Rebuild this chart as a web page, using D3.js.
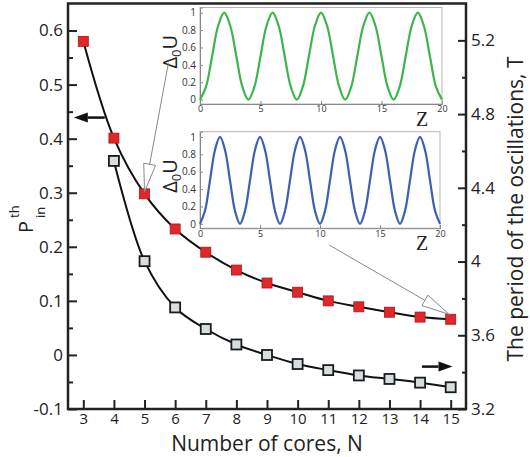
<!DOCTYPE html>
<html>
<head>
<meta charset="utf-8">
<script src="https://cdn.jsdelivr.net/npm/d3@7"></script>
<style>
  html, body { margin: 0; padding: 0; background: #fff; }
  svg { display: block; }
</style>
</head>
<body>
<div id="chart"></div>
<script>
// number of cores
const cores = [3, 4, 5, 6, 7, 8, 9, 10, 11, 12, 13, 14, 15];
// threshold power P_in^th (left axis), red squares
const pTh = [0.580, 0.401, 0.298, 0.233, 0.190, 0.157, 0.133, 0.116, 0.100, 0.089, 0.079, 0.070, 0.066];
// period of oscillations T (right axis), grey squares, from N = 4
const coresT = [4, 5, 6, 7, 8, 9, 10, 11, 12, 13, 14, 15];
const periodT = [4.546, 4.002, 3.751, 3.634, 3.550, 3.493, 3.444, 3.411, 3.382, 3.363, 3.343, 3.318];

const xTicks = [3, 4, 5, 6, 7, 8, 9, 10, 11, 12, 13, 14, 15];
const leftTicks = [-0.1, 0, 0.1, 0.2, 0.3, 0.4, 0.5, 0.6];
const leftMinor = [-0.05, 0.05, 0.15, 0.25, 0.35, 0.45, 0.55];
const rightTicks = [3.2, 3.6, 4, 4.4, 4.8, 5.2];
const rightMinor = [3.4, 3.8, 4.2, 4.6, 5.0];

// inset profiles Δ0U(Z)
const greenU = [0, 0.15, 0.5, 0.85, 1, 0.85, 0.5, 0.15,
                0, 0.15, 0.5, 0.85, 1, 0.85, 0.5, 0.15,
                0, 0.15, 0.5, 0.85, 1, 0.85, 0.5, 0.15,
                0, 0.15, 0.5, 0.85, 1, 0.85, 0.5, 0.15,
                0, 0.15, 0.5, 0.85, 1, 0.85, 0.5, 0.15, 0];
const blueU = [0, 0.15, 0.5, 0.85, 1, 0.85, 0.5, 0.15,
               0, 0.15, 0.5, 0.85, 1, 0.85, 0.5, 0.15,
               0, 0.15, 0.5, 0.85, 1, 0.85, 0.5, 0.15,
               0, 0.15, 0.5, 0.85, 1, 0.85, 0.5, 0.15,
               0, 0.15, 0.5, 0.85, 1, 0.85, 0.5, 0.15,
               0, 0.15, 0.5, 0.85, 1, 0.85, 0.5, 0.15, 0];
const insetXTicks = [0, 5, 10, 15, 20];
const insetYTicks = [0, 0.2, 0.4, 0.6, 0.8, 1];

const width = 530;
const height = 457;
const font = '"Open Sans", "Noto Sans", sans-serif';

const margin = { top: 3.5, right: 64, bottom: 48, left: 68 };
const usable = {
  top: margin.top,
  right: width - margin.right,
  bottom: height - margin.bottom,
  left: margin.left,
};

const svg = d3.select('#chart')
  .append('svg')
  .attr('width', width)
  .attr('height', height);

svg.append('rect').attr('width', width).attr('height', height).attr('fill', '#fff');

const x = d3.scaleLinear().domain([2.5, 15.5]).range([usable.left, usable.right]);
const yLeft = d3.scaleLinear().domain([-0.1, 0.65]).range([usable.bottom, usable.top]);
const yRight = d3.scaleLinear().domain([3.2, 5.4]).range([usable.bottom, usable.top]);

function styleAxis(g, size) {
  g.select('.domain').remove();
  g.attr('font-family', font).attr('font-size', size).attr('color', '#222');
  g.selectAll('line').attr('stroke-width', 2);
}

// minor ticks
svg.append('g')
  .attr('transform', `translate(${usable.left},0)`)
  .call(d3.axisLeft(yLeft).tickValues(leftMinor).tickSize(-5).tickFormat(''))
  .call(g => styleAxis(g, 16));
svg.append('g')
  .attr('transform', `translate(${usable.right},0)`)
  .call(d3.axisRight(yRight).tickValues(rightMinor).tickSize(-4).tickFormat(''))
  .call(g => styleAxis(g, 16));

// major axes
svg.append('g')
  .attr('transform', `translate(${usable.left},0)`)
  .call(d3.axisLeft(yLeft).tickValues(leftTicks).tickSize(-9).tickPadding(5).tickFormat(d => String(d)))
  .call(g => styleAxis(g, 17));
svg.append('g')
  .attr('transform', `translate(${usable.right},0)`)
  .call(d3.axisRight(yRight).tickValues(rightTicks).tickSize(-8).tickPadding(5).tickFormat(d => String(d)))
  .call(g => styleAxis(g, 17));
svg.append('g')
  .attr('transform', `translate(0,${usable.bottom})`)
  .call(d3.axisBottom(x).tickValues(xTicks).tickSize(-9).tickPadding(4).tickFormat(d => String(d)))
  .call(g => styleAxis(g, 15));

// frame
svg.append('rect')
  .attr('x', usable.left)
  .attr('y', usable.top)
  .attr('width', usable.right - usable.left)
  .attr('height', usable.bottom - usable.top)
  .attr('fill', 'none')
  .attr('stroke', '#222')
  .attr('stroke-width', 2.5);

// curves
const redPts = cores.map((n, i) => [x(n), yLeft(pTh[i])]);
const greyPts = coresT.map((n, i) => [x(n), yRight(periodT[i])]);
const smooth = d3.line().curve(d3.curveCatmullRom.alpha(0.5));

svg.append('path').attr('d', smooth(redPts)).attr('fill', 'none').attr('stroke', '#111').attr('stroke-width', 2);
svg.append('path').attr('d', smooth(greyPts)).attr('fill', 'none').attr('stroke', '#111').attr('stroke-width', 2);

const sq = 10;
svg.append('g').selectAll('rect').data(greyPts).join('rect')
  .attr('x', d => d[0] - sq / 2).attr('y', d => d[1] - sq / 2)
  .attr('width', sq).attr('height', sq)
  .attr('fill', '#d7dee1').attr('stroke', '#1b1b1b').attr('stroke-width', 1.8);
svg.append('g').selectAll('rect').data(redPts).join('rect')
  .attr('x', d => d[0] - sq / 2).attr('y', d => d[1] - sq / 2)
  .attr('width', sq).attr('height', sq)
  .attr('fill', '#e3262a').attr('stroke', '#a01818').attr('stroke-width', 0.8);

// black axis-pointing arrows
function blackArrow(x1, y1, x2, y2) {
  const a = Math.atan2(y2 - y1, x2 - x1);
  const len = 14, half = 5;
  const bx = x2 - len * Math.cos(a), by = y2 - len * Math.sin(a);
  svg.append('line').attr('x1', x1).attr('y1', y1).attr('x2', bx).attr('y2', by)
    .attr('stroke', '#111').attr('stroke-width', 2.5);
  svg.append('path')
    .attr('d', `M${x2},${y2}L${bx - half * Math.sin(a)},${by + half * Math.cos(a)}L${bx + half * Math.sin(a)},${by - half * Math.cos(a)}Z`)
    .attr('fill', '#111');
}
blackArrow(x(3.7), yLeft(0.439), x(2.69), yLeft(0.439));
blackArrow(x(14.06), yRight(3.43), x(15.06), yRight(3.43));

// insets
function inset(values, color, top, right) {
  const bottom = top + 96.5;
  const zs = values.map((v, i) => i * 20 / (values.length - 1));
  const ix = d3.scaleLinear().domain([0, 20]).range([200, right]);
  const iy = d3.scaleLinear().domain([-0.05, 1.06]).range([bottom, top]);
  const g = svg.append('g');
  g.append('rect').attr('x', 200).attr('y', top).attr('width', right - 200).attr('height', bottom - top)
    .attr('fill', '#fff').attr('stroke', '#b5b5b5').attr('stroke-width', 1);
  g.append('g').attr('transform', `translate(200,0)`)
    .call(d3.axisLeft(iy).tickValues(insetYTicks).tickSize(-3).tickPadding(4).tickFormat(d => String(d)))
    .call(a => {
      a.select('.domain').attr('stroke', '#888');
      a.attr('font-family', font).attr('font-size', 10).attr('color', '#888');
      a.selectAll('text').attr('fill', '#333');
    });
  g.append('g').attr('transform', `translate(0,${bottom})`)
    .call(d3.axisBottom(ix).tickValues(insetXTicks).tickSize(-3).tickPadding(2).tickFormat(d => String(d)))
    .call(a => {
      a.select('.domain').attr('stroke', '#888');
      a.attr('font-family', font).attr('font-size', 9).attr('color', '#888');
      a.selectAll('text').attr('fill', '#333');
    });
  g.append('path')
    .attr('d', d3.line().curve(d3.curveCatmullRom.alpha(0.5))(zs.map((z, i) => [ix(z), iy(values[i])])))
    .attr('fill', 'none').attr('stroke', color).attr('stroke-width', 2.2);
  g.append('text').attr('x', 422).attr('y', bottom + 22).attr('text-anchor', 'middle')
    .attr('font-family', '"Liberation Serif", serif').attr('font-size', 20).attr('fill', '#222').text('Z');
  const lab = g.append('text')
    .attr('transform', `translate(177,${(top + bottom) / 2 - 4}) rotate(-90)`)
    .attr('text-anchor', 'middle')
    .attr('font-family', font).attr('font-size', 20).attr('fill', '#222');
  lab.append('tspan').text('Δ');
  lab.append('tspan').attr('font-size', 13).attr('dy', 4).text('0');
  lab.append('tspan').attr('dy', -4).text('U');
}
inset(greenU, '#3db54a', 7.5, 442);
inset(blueU, '#3b5fb8', 131.7, 440);

// hollow pointer arrows to the insets
function pointer(x1, y1, x2, y2) {
  const a = Math.atan2(y2 - y1, x2 - x1);
  const len = 28, half = 6;
  const bx = x2 - len * Math.cos(a), by = y2 - len * Math.sin(a);
  svg.append('line').attr('x1', x1).attr('y1', y1).attr('x2', bx).attr('y2', by)
    .attr('stroke', '#888').attr('stroke-width', 1);
  svg.append('path')
    .attr('d', `M${x2},${y2}L${bx - half * Math.sin(a)},${by + half * Math.cos(a)}L${bx + half * Math.sin(a)},${by - half * Math.cos(a)}Z`)
    .attr('fill', '#fff').attr('stroke', '#888').attr('stroke-width', 1);
}
pointer(x(5.78), yLeft(0.540), x(5.0), yLeft(0.298) - 2);
pointer(x(11.04), yLeft(0.203), x(14.95), yLeft(0.075));

// axis titles
svg.append('text')
  .attr('x', (usable.left + usable.right) / 2)
  .attr('y', 451)
  .attr('text-anchor', 'middle')
  .attr('font-family', font).attr('font-size', 21).attr('fill', '#222')
  .text('Number of cores, N');

svg.append('text')
  .attr('transform', `translate(523,209) rotate(-90)`)
  .attr('text-anchor', 'middle')
  .attr('font-family', font).attr('font-size', 21).attr('fill', '#222')
  .text('The period of the oscillations, T');

const pLab = svg.append('g').attr('transform', 'translate(33,233) rotate(-90)')
  .attr('font-family', font).attr('fill', '#222');
pLab.append('text').attr('x', 0).attr('y', 0).attr('font-size', 20).text('P');
pLab.append('text').attr('x', 15).attr('y', 12).attr('font-size', 13).text('in');
pLab.append('text').attr('x', 15).attr('y', -14).attr('font-size', 13).text('th');
</script>
</body>
</html>
